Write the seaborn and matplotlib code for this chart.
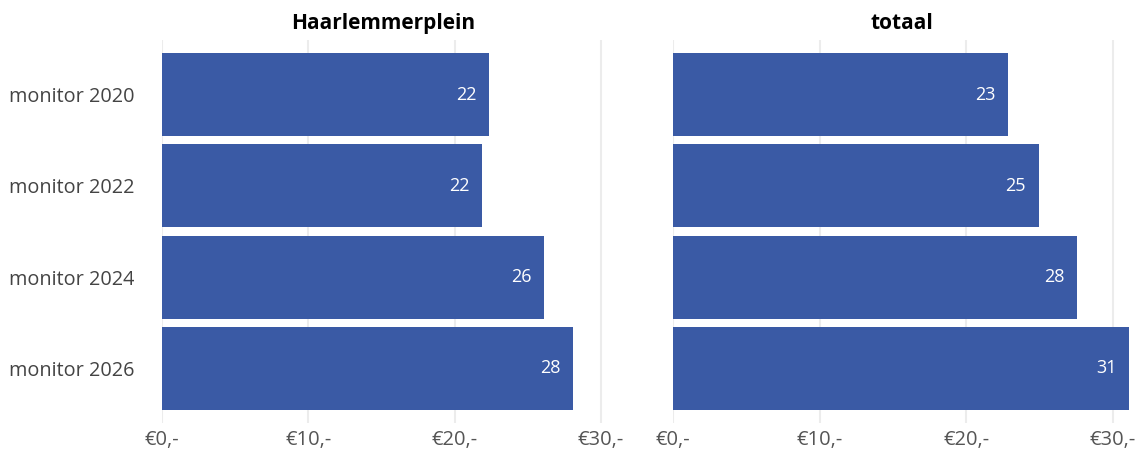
import pandas as pd
import seaborn as sns
import matplotlib.pyplot as plt

categories = ["monitor 2020", "monitor 2022", "monitor 2024", "monitor 2026"]
haarlemmerplein = [22.35, 21.85, 26.1, 28.1]
totaal = [22.85, 24.95, 27.55, 31.15]
panels = ["Haarlemmerplein", "totaal"]
xticks = [0, 10, 20, 30]
xticklabels = ["€0,-", "€10,-", "€20,-", "€30,-"]

df = pd.DataFrame({
    "cat": categories * 2,
    "value": haarlemmerplein + totaal,
    "panel": [panels[0]] * 4 + [panels[1]] * 4,
})

sns.set_theme(style="white")
plt.rcParams["font.family"] = ["Open Sans", "DejaVu Sans"]

bar_color = "#3a5aa5"
fig = plt.figure(figsize=(11.42, 4.49), dpi=100)
ax_left = fig.add_axes([0.1419, 0.058, 0.387, 0.853])
ax_right = fig.add_axes([0.5893, 0.058, 0.401, 0.853])

for ax, name, xmax in [(ax_left, panels[0], 30.2), (ax_right, panels[1], 31.25)]:
    sub = df[df["panel"] == name]
    sns.barplot(data=sub, x="value", y="cat", orient="h", color=bar_color,
                saturation=1, width=0.91, linewidth=0, ax=ax)
    for i, v in enumerate(sub["value"]):
        ax.annotate(f"{round(v)}", xy=(v, i), xytext=(-9, 0),
                    textcoords="offset points", ha="right", va="center",
                    color="white", fontsize=13)
    ax.set_xlim(0, xmax)
    ax.set_ylim(3.6, -0.6)
    ax.set_xticks(xticks)
    ax.set_xticklabels(xticklabels, color="#555555", fontsize=14.5)
    ax.grid(axis="x", color="#ececec", linewidth=1.5)
    ax.set_axisbelow(True)
    ax.tick_params(axis="both", length=0, pad=5)
    ax.set_xlabel("")
    ax.set_ylabel("")
    ax.set_title(name, fontsize=15, fontweight="bold", color="black", pad=8)
    sns.despine(ax=ax, left=True, bottom=True)

ax_left.set_yticklabels(categories, color="#444444", fontsize=14.3)
ax_left.tick_params(axis="y", pad=20)
ax_right.set_yticklabels([])

fig.savefig("out.png", dpi=100)
